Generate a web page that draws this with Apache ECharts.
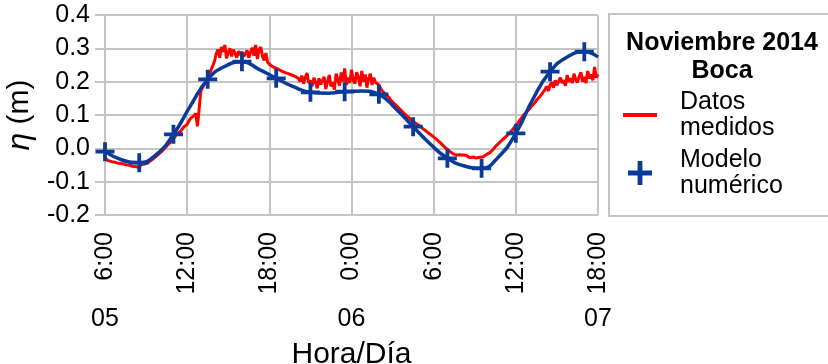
<!DOCTYPE html>
<html>
<head>
<meta charset="utf-8">
<script src="https://cdn.jsdelivr.net/npm/echarts@6/dist/echarts.min.js"></script>
<style>
  html, body { margin: 0; padding: 0; background: #fff; }
  #chart { width: 828px; height: 364px; }
</style>
</head>
<body>
<div id="chart"></div>
<script>
// Hours counted from 00:00 of day 05
const hourTicks = [6, 12, 18, 24, 30, 36, 42];
const dayTicks = [6, 24, 42];
const dayNames = ['05', '06', '07'];
const yTicks = [-0.2, -0.1, 0.0, 0.1, 0.2, 0.3, 0.4];

// Measured water level (m), sampled every 0.125 h from 06:00 day 05
const measStart = 6;
const measStep = 0.125;
const measValues = [
  -0.030, -0.034, -0.037, -0.033, -0.040, -0.036, -0.042, -0.038, -0.045, -0.041, -0.046, -0.043, -0.049, -0.044, -0.050, -0.046, // 6-8
  -0.054, -0.048, -0.055, -0.050, -0.057, -0.049, -0.053, -0.047, -0.050, -0.043, -0.042, -0.036, -0.034, -0.028, -0.025, -0.019, // 8-10
  -0.016, -0.010, -0.004, 0.001, 0.006, 0.012, 0.018, 0.022, 0.028, 0.036, 0.044, 0.041, 0.050, 0.056, 0.064, 0.060,               // 10-12
  0.072, 0.082, 0.090, 0.086, 0.098, 0.105, 0.066, 0.072, 0.172, 0.182, 0.192, 0.198, 0.206, 0.222, 0.236, 0.248,                  // 12-14
  0.262, 0.284, 0.296, 0.272, 0.304, 0.290, 0.310, 0.270, 0.288, 0.300, 0.276, 0.296, 0.284, 0.272, 0.292, 0.280,                  // 14-16
  0.290, 0.276, 0.284, 0.294, 0.272, 0.288, 0.302, 0.278, 0.310, 0.268, 0.296, 0.304, 0.276, 0.264, 0.286, 0.258,                  // 16-18
  0.254, 0.248, 0.252, 0.242, 0.246, 0.238, 0.242, 0.232, 0.236, 0.228, 0.234, 0.224, 0.230, 0.220, 0.226, 0.216,                  // 18-20
  0.222, 0.210, 0.200, 0.218, 0.194, 0.212, 0.226, 0.196, 0.204, 0.186, 0.212, 0.198, 0.180, 0.210, 0.192, 0.186,                  // 20-22
  0.214, 0.178, 0.200, 0.220, 0.186, 0.198, 0.176, 0.224, 0.206, 0.188, 0.228, 0.200, 0.240, 0.190, 0.212, 0.196,                  // 22-24
  0.236, 0.204, 0.194, 0.228, 0.214, 0.186, 0.232, 0.200, 0.222, 0.182, 0.210, 0.224, 0.190, 0.212, 0.198, 0.194,                  // 24-26
  0.190, 0.180, 0.172, 0.166, 0.162, 0.158, 0.152, 0.144, 0.138, 0.134, 0.128, 0.124, 0.118, 0.114, 0.108, 0.103,                  // 26-28
  0.098, 0.094, 0.089, 0.085, 0.080, 0.077, 0.074, 0.070, 0.066, 0.062, 0.058, 0.054, 0.050, 0.046, 0.043, 0.038,                  // 28-30
  0.034, 0.030, 0.026, 0.021, 0.016, 0.011, 0.006, 0.001, -0.003, -0.008, -0.011, -0.015, -0.018, -0.020, -0.022, -0.019,          // 30-32
  -0.023, -0.020, -0.026, -0.021, -0.024, -0.028, -0.022, -0.026, -0.021, -0.029, -0.024, -0.027, -0.022, -0.025, -0.020, -0.018, // 32-34
  -0.015, -0.012, -0.008, -0.002, 0.005, 0.008, 0.015, 0.018, 0.025, 0.028, 0.034, 0.040, 0.044, 0.050, 0.056, 0.062,              // 34-36
  0.068, 0.074, 0.082, 0.088, 0.096, 0.100, 0.108, 0.112, 0.118, 0.126, 0.132, 0.136, 0.144, 0.150, 0.155, 0.162,                  // 36-38
  0.165, 0.176, 0.186, 0.172, 0.190, 0.198, 0.182, 0.204, 0.190, 0.186, 0.212, 0.196, 0.204, 0.188, 0.220, 0.200,                  // 38-40
  0.210, 0.196, 0.224, 0.206, 0.198, 0.216, 0.228, 0.200, 0.214, 0.196, 0.232, 0.210, 0.222, 0.204, 0.244, 0.212,                  // 40-42
  0.222                                                                                                                           // 42
];

// Numerical model output (m)
const modelHours = [6, 7.25, 8.5, 9.75, 11, 12.25, 13.5, 14.75, 16, 17.25, 18.5, 19.75,
  21, 22.25, 23.5, 24.75, 26, 27.25, 28.5, 29.75, 31, 32.25, 33.5, 34.75, 36, 37.25,
  38.5, 39.75, 41, 42];
const modelValues = [-0.010, -0.035, -0.043, -0.018, 0.042, 0.128, 0.207, 0.246, 0.260,
  0.237, 0.210, 0.185, 0.168, 0.165, 0.170, 0.172, 0.162, 0.118, 0.065, 0.013, -0.030,
  -0.053, -0.060, -0.025, 0.045, 0.148, 0.230, 0.274, 0.290, 0.274];
// Model values shown with a cross marker (every 2.5 h)
const markHours = [6, 8.5, 11, 13.5, 16, 18.5, 21, 23.5, 26, 28.5, 31, 33.5, 36, 38.5, 41];

const legendTitle = ['Noviembre 2014', 'Boca'];
const measName = 'Datos\nmedidos';
const modelName = 'Modelo\nnumérico';

const RED = '#ff0000';
const BLUE = '#0a3a9a';
const GRID = '#c4c4c4';
const FONT = '"Liberation Sans", Arial, sans-serif';
const PLUS = 'path://M8,0h4v20h-4z M0,8h20v4h-20z';
const DASH = 'path://M0,0h34v4h-34z';

const measData = measValues.map((v, i) => [measStart + i * measStep, v]);
const modelData = modelHours.map((h, i) => [h, modelValues[i]]);
const markData = markHours.map(h => [h, modelValues[modelHours.indexOf(h)]]);

const chart = echarts.init(document.getElementById('chart'));
chart.setOption({
  animation: false,
  backgroundColor: '#fff',
  textStyle: { fontFamily: FONT, color: '#000' },
  grid: { left: 105, right: 230, top: 15, bottom: 149, containLabel: false,
    outerBoundsMode: 'none' },
  xAxis: [{
    type: 'value', min: hourTicks[0], max: hourTicks[hourTicks.length - 1], interval: 6,
    axisLine: { lineStyle: { color: GRID, width: 2 } },
    axisTick: { show: true, length: 9, lineStyle: { color: GRID, width: 2 } },
    splitLine: { show: true, lineStyle: { color: GRID, width: 2 } },
    axisLabel: {
      rotate: 90, margin: 17, fontSize: 25, fontFamily: FONT, color: '#000',
      showMinLabel: true, showMaxLabel: true, hideOverlap: false,
      formatter: v => (v % 24) + ':00'
    }
  }, {
    type: 'value', min: hourTicks[0], max: hourTicks[hourTicks.length - 1], interval: 6,
    position: 'bottom', offset: 84,
    axisLine: { show: false }, axisTick: { show: false }, splitLine: { show: false },
    axisLabel: {
      margin: 8, fontSize: 25, fontFamily: FONT, color: '#000',
      showMinLabel: true, showMaxLabel: true, hideOverlap: false,
      formatter: v => { const k = dayTicks.indexOf(v); return k >= 0 ? dayNames[k] : ''; }
    },
    name: 'Hora/Día', nameLocation: 'middle', nameGap: 41,
    nameTextStyle: { fontSize: 30, fontFamily: FONT, color: '#000' }
  }],
  yAxis: {
    type: 'value', min: yTicks[0], max: yTicks[yTicks.length - 1], interval: 0.1,
    axisLine: { show: true, lineStyle: { color: GRID, width: 2 } },
    axisTick: { show: true, length: 10, lineStyle: { color: GRID, width: 2 } },
    splitLine: { show: true, lineStyle: { color: GRID, width: 2 } },
    axisLabel: { margin: 15, fontSize: 25, fontFamily: FONT, color: '#000',
      formatter: v => v.toFixed(1) },
    name: '{i|η} (m)', nameLocation: 'middle', nameRotate: 90, nameGap: 57,
    nameTextStyle: { fontSize: 30, fontFamily: FONT, color: '#000',
      rich: { i: { fontSize: 32, fontStyle: 'italic', fontFamily: FONT, color: '#000' } } }
  },
  legend: {
    orient: 'vertical', left: 623, top: 89, padding: 0,
    itemWidth: 34, itemHeight: 24, itemGap: 6,
    textStyle: { fontSize: 25, lineHeight: 26, fontFamily: FONT, color: '#000',
      padding: [0, 0, 0, 18] },
    data: [{ name: measName, icon: DASH }, { name: modelName, icon: PLUS }]
  },
  graphic: [
    { type: 'rect', shape: { x: 609, y: 14, width: 260, height: 202 },
      style: { fill: 'none', stroke: GRID, lineWidth: 2 }, silent: true },
    { type: 'text', x: 722, y: 43, style: { text: legendTitle[0], fontSize: 25, fontWeight: 'bold',
      fontFamily: FONT, fill: '#000', align: 'center', verticalAlign: 'middle' } },
    { type: 'text', x: 722, y: 71, style: { text: legendTitle[1], fontSize: 25, fontWeight: 'bold',
      fontFamily: FONT, fill: '#000', align: 'center', verticalAlign: 'middle' } }
  ],
  series: [{
    name: measName, type: 'line', data: measData, symbol: 'none', showSymbol: false,
    lineStyle: { color: RED, width: 3 }, itemStyle: { color: RED }, z: 2
  }, {
    name: 'modelCurve', type: 'line', data: modelData, smooth: 0.5, symbol: 'none',
    showSymbol: false, lineStyle: { color: BLUE, width: 3.5 }, itemStyle: { color: BLUE }, z: 3
  }, {
    name: modelName, type: 'scatter', data: markData, symbol: PLUS, symbolSize: 19,
    itemStyle: { color: BLUE, opacity: 1 }, z: 4
  }]
});
</script>
</body>
</html>
